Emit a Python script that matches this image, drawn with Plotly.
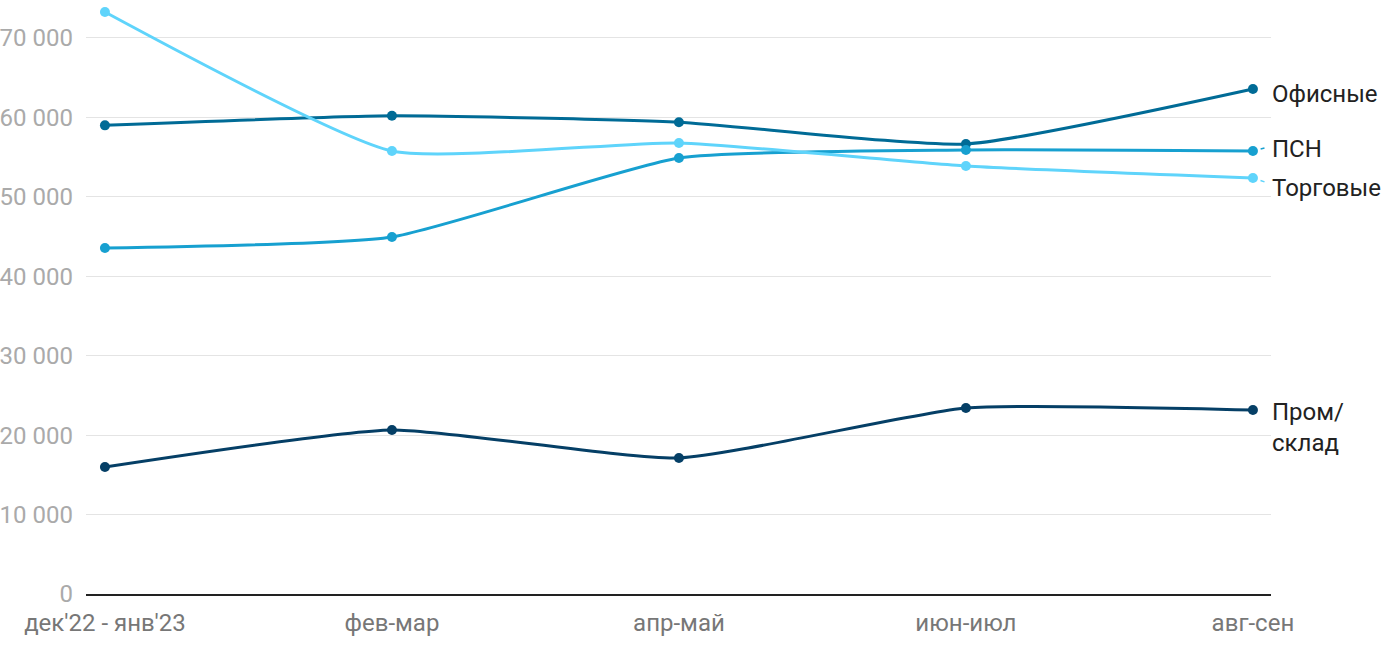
import plotly.graph_objects as go

categories = ["дек'22 - янв'23", "фев-мар", "апр-май", "июн-июл", "авг-сен"]
office = [59000, 60200, 59400, 56650, 63580]
psn = [43560, 44950, 54890, 55900, 55770]
retail = [73270, 55770, 56780, 53880, 52370]
industrial = [15990, 20650, 17120, 23420, 23170]

series = [
    ("Офисные", office, "#006b96", "Офисные", -5, None),
    ("ПСН", psn, "#17a0d0", "ПСН", 2, -4),
    ("Торговые", retail, "#5fd4fb", "Торговые", -10, 5),
    ("Пром/склад", industrial, "#053f66", "Пром/<br>склад", -18, None),
]

fig = go.Figure()
x_idx = list(range(len(categories)))
for name, vals, color, label, yshift, dash_ay in series:
    fig.add_trace(go.Scatter(
        x=x_idx, y=vals, name=name, mode="lines+markers",
        line=dict(color=color, width=3, shape="spline", smoothing=0.5),
        marker=dict(color=color, size=10),
        cliponaxis=False,
        hoverinfo="x+y+name", showlegend=False,
    ))
    fig.add_annotation(
        x=x_idx[-1], y=vals[-1], text=label, showarrow=False,
        xanchor="left", yanchor="middle", xshift=17, yshift=yshift,
        align="left",
        font=dict(family="Roboto", size=24, color="#222"),
    )
    if dash_ay is not None:
        fig.add_annotation(
            x=x_idx[-1], y=vals[-1], text="", showarrow=True,
            ax=15, ay=dash_ay, axref="pixel", ayref="pixel",
            arrowhead=0, arrowwidth=1.5, arrowcolor=color,
            standoff=8, startstandoff=2,
        )

fig.update_layout(
    width=1400, height=650,
    margin=dict(l=86, r=129, t=0, b=56),
    paper_bgcolor="white", plot_bgcolor="white",
    font=dict(family="Roboto", size=24, color="#999"),
    xaxis=dict(
        tickmode="array", tickvals=x_idx, ticktext=categories,
        range=[-0.066, 4.063], showgrid=False, zeroline=False,
        showline=True, linecolor="#222", linewidth=2,
        tickfont=dict(family="Roboto", size=24, color="#777"),
        ticks="outside", ticklen=6, tickcolor="rgba(0,0,0,0)",
        automargin=False,
    ),
    yaxis=dict(
        range=[0, 74780], tickvals=[0, 10000, 20000, 30000, 40000, 50000, 60000, 70000],
        ticktext=["0", "10 000", "20 000", "30 000", "40 000", "50 000", "60 000", "70 000"],
        showgrid=True, gridcolor="#e4e4e4", gridwidth=1, zeroline=False,
        tickfont=dict(family="Roboto", size=24, color="#aaa"),
        ticklabelstandoff=12, automargin=False,
    ),
)

fig.write_html("out.html", config={"displayModeBar": False},
               post_script="document.body.style.margin='0px';")
